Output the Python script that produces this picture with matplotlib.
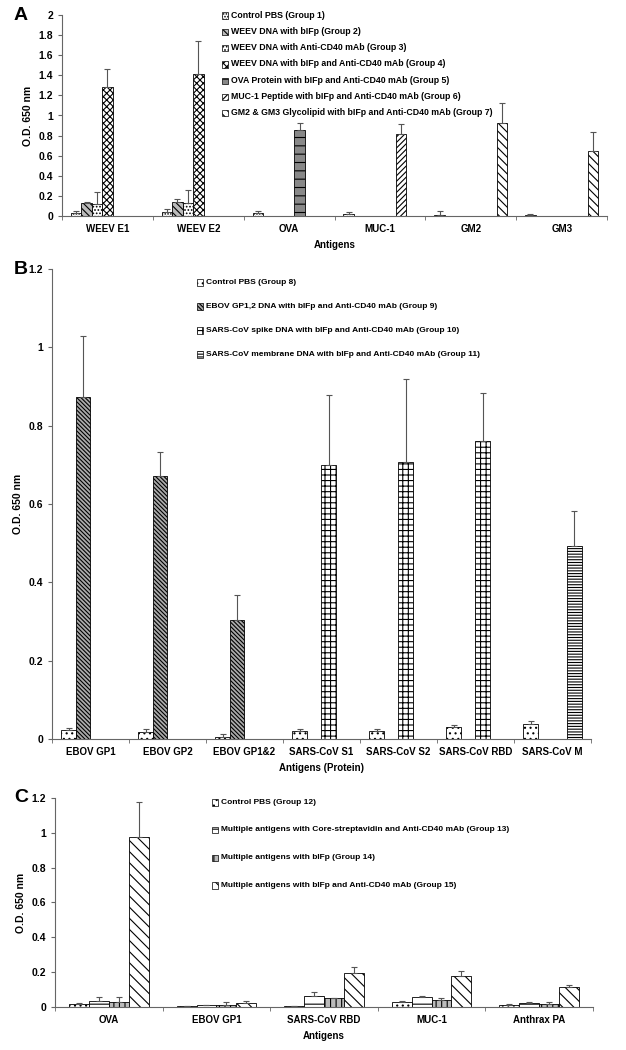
import numpy as np
import matplotlib
matplotlib.use('Agg')
import matplotlib.pyplot as plt

plt.rcParams['font.family'] = ['Liberation Sans', 'DejaVu Sans']
plt.rcParams['hatch.linewidth'] = 0.8

# ---- Panel A data ----
cats_a = ['WEEV E1', 'WEEV E2', 'OVA', 'MUC-1', 'GM2', 'GM3']
groups_a = ['Control PBS (Group 1)',
            'WEEV DNA with bIFp (Group 2)',
            'WEEV DNA with Anti-CD40 mAb (Group 3)',
            'WEEV DNA with bIFp and Anti-CD40 mAb (Group 4)',
            'OVA Protein with bIFp and Anti-CD40 mAb (Group 5)',
            'MUC-1 Peptide with bIFp and Anti-CD40 mAb (Group 6)',
            'GM2 & GM3 Glycolipid with bIFp and Anti-CD40 mAb (Group 7)']
# values per group across categories (nan = no bar)
nan = np.nan
vals_a = [[0.027, 0.043, 0.033, 0.017, 0.010, 0.010],
          [0.129, 0.143, nan, nan, nan, nan],
          [0.116, 0.133, nan, nan, nan, nan],
          [1.28, 1.41, nan, nan, nan, nan],
          [nan, nan, 0.852, nan, nan, nan],
          [nan, nan, nan, 0.819, nan, nan],
          [nan, nan, nan, nan, 0.925, 0.65]]
errs_a = [[0.019, 0.023, 0.013, 0.019, 0.040, 0.010],
          [0.010, 0.023, nan, nan, nan, nan],
          [0.123, 0.126, nan, nan, nan, nan],
          [0.186, 0.335, nan, nan, nan, nan],
          [nan, nan, 0.070, nan, nan, nan],
          [nan, nan, nan, 0.096, nan, nan],
          [nan, nan, nan, nan, 0.195, 0.182]]

# ---- Panel B data ----
cats_b = ['EBOV GP1', 'EBOV GP2', 'EBOV GP1&2', 'SARS-CoV S1', 'SARS-CoV S2',
          'SARS-CoV RBD', 'SARS-CoV M']
groups_b = ['Control PBS (Group 8)',
            'EBOV GP1,2 DNA with bIFp and Anti-CD40 mAb (Group 9)',
            'SARS-CoV spike DNA with bIFp and Anti-CD40 mAb (Group 10)',
            'SARS-CoV membrane DNA with bIFp and Anti-CD40 mAb (Group 11)']
vals_b = [[0.024, 0.017, 0.006, 0.020, 0.021, 0.031, 0.038],
          [0.873, 0.672, 0.304, nan, nan, nan, nan],
          [nan, nan, nan, 0.700, 0.708, 0.760, nan],
          [nan, nan, nan, nan, nan, nan, 0.492]]
errs_b = [[0.003, 0.009, 0.007, 0.006, 0.004, 0.005, 0.008],
          [0.157, 0.061, 0.064, nan, nan, nan, nan],
          [nan, nan, nan, 0.178, 0.212, 0.123, nan],
          [nan, nan, nan, nan, nan, nan, 0.090]]

# ---- Panel C data ----
cats_c = ['OVA', 'EBOV GP1', 'SARS-CoV RBD', 'MUC-1', 'Anthrax PA']
groups_c = ['Control PBS (Group 12)',
            'Multiple antigens with Core-streptavidin and Anti-CD40 mAb (Group 13)',
            'Multiple antigens with bIFp (Group 14)',
            'Multiple antigens with bIFp and Anti-CD40 mAb (Group 15)']
vals_c = [[0.015, 0.003, 0.003, 0.029, 0.013],
          [0.032, 0.010, 0.065, 0.057, 0.025],
          [0.030, 0.012, 0.050, 0.038, 0.017],
          [0.977, 0.022, 0.195, 0.176, 0.113]]
errs_c = [[0.005, 0.002, 0.002, 0.003, 0.002],
          [0.024, 0.003, 0.019, 0.004, 0.002],
          [0.025, 0.018, 0.003, 0.012, 0.012],
          [0.200, 0.013, 0.034, 0.030, 0.013]]

# styles: (facecolor, hatch)
sty_a = [('white', '......'), ('#bbbbbb', '\\\\\\\\\\'), ('white', '.....'),
         ('white', 'xxxxx'), ('#888888', '--'), ('white', '//////'),
         ('white', '\\\\\\\\')]
sty_b = [('white', '...'), ('#aaaaaa', '\\\\\\\\\\\\\\\\'), ('white', '+++'),
         ('white', '------')]
sty_c = [('white', '...'), ('white', '--'), ('#bbbbbb', '|||'),
         ('white', '\\\\\\')]

fig = plt.figure(figsize=(6.26, 10.5), dpi=100)


def panel(rect, cats, groups, vals, errs, styles, ymax, xlabel, width,
          leg_x, leg_y, leg_dy, letter, fs_leg):
    ax = fig.add_axes(rect)
    n = len(groups)
    x = np.arange(len(cats))
    for i in range(n):
        off = (i - (n - 1) / 2) * width
        v = np.array(vals[i], dtype=float)
        e = np.array(errs[i], dtype=float)
        m = ~np.isnan(v)
        fc, h = styles[i]
        ax.bar(x[m] + off, v[m], width, color=fc, edgecolor='black',
               hatch=h, linewidth=0.6)
        ax.errorbar(x[m] + off, v[m], yerr=[np.zeros(m.sum()), e[m]],
                    fmt='none', ecolor='#555555', elinewidth=0.8,
                    capsize=2.5, capthick=0.8)
    ax.set_xlim(-0.5, len(cats) - 0.5)
    ax.set_ylim(0, ymax)
    ax.set_yticks(np.arange(0, ymax + 0.001, 0.2))
    ax.set_yticklabels(['%g' % t for t in np.arange(0, ymax + 0.001, 0.2)])
    ax.set_xticks(x)
    ax.set_xticklabels(cats)
    ax.set_xticks(np.arange(len(cats) + 1) - 0.5, minor=True)
    ax.tick_params(axis='x', which='major', length=0, labelsize=7, pad=6)
    ax.tick_params(axis='x', which='minor', length=3, color='#666666')
    ax.tick_params(axis='y', labelsize=7.5, length=3, color='#666666')
    for lab in ax.get_yticklabels() + ax.get_xticklabels():
        lab.set_fontweight('bold')
    ax.spines['top'].set_visible(False)
    ax.spines['right'].set_visible(False)
    ax.spines['left'].set_color('#666666')
    ax.spines['bottom'].set_color('#666666')
    ax.set_ylabel('O.D. 650 nm', fontsize=7.5, fontweight='bold')
    ax.set_xlabel(xlabel, fontsize=7, fontweight='bold')
    # legend
    for i, g in enumerate(groups):
        fc, h = styles[i]
        yy = leg_y - i * leg_dy
        fig.patches.append(matplotlib.patches.Rectangle(
            (leg_x, yy - 0.0035), 0.009, 0.006, transform=fig.transFigure,
            facecolor=fc, edgecolor='black', hatch=h, linewidth=0.5))
        fig.text(leg_x + 0.014, yy, g, fontsize=fs_leg, fontweight='bold',
                 va='center', ha='left')
    fig.text(0.022, rect[1] + rect[3], letter, fontsize=14, fontweight='bold',
             va='center', ha='left')
    return ax


panel([0.099, 0.7943, 0.871, 0.1914], cats_a, groups_a, vals_a, errs_a,
      sty_a, 2.0, 'Antigens', 0.115, 0.355, 1 - 15 / 1050, 16.3 / 1050, 'A',
      6.3)
panel([0.083, 0.2962, 0.861, 0.4476], cats_b, groups_b, vals_b, errs_b,
      sty_b, 1.2, 'Antigens (Protein)', 0.19, 0.315, 1 - 282 / 1050,
      24 / 1050, 'B', 6.0)
panel([0.088, 0.0410, 0.859, 0.199], cats_c, groups_c, vals_c, errs_c,
      sty_c, 1.2, 'Antigens', 0.185, 0.339, 1 - 802 / 1050, 27.7 / 1050,
      'C', 6.0)

plt.savefig('out.png', dpi=100)
